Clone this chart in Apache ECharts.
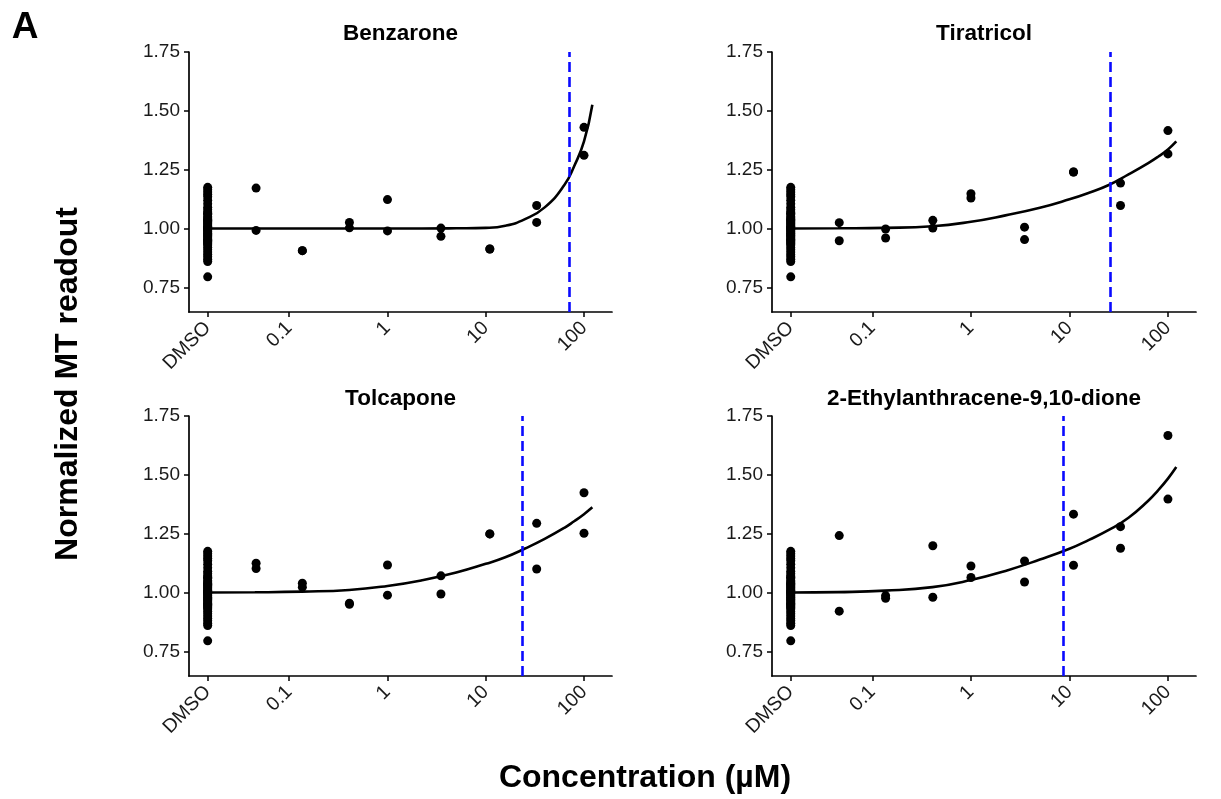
<!DOCTYPE html>
<html>
<head>
<meta charset="utf-8">
<script src="https://cdn.jsdelivr.net/npm/echarts@6/dist/echarts.min.js"></script>
<style>
html, body { margin: 0; background: #fff; }
#plot { width: 1221px; height: 799px; }
</style>
</head>
<body>
<div id="plot"></div>
<script>
// compound panels, in reading order
const compounds = ['Benzarone', 'Tiratricol', 'Tolcapone', '2-Ethylanthracene-9,10-dione'];

// x ticks (concentration, µM); DMSO is drawn at a fixed spot left of 0.1
const dmsoPos = 0.0148;
const xTickConc = [dmsoPos, 0.1, 1, 10, 100];
const xTickLabels = ['DMSO', '0.1', '1', '10', '100'];
const yTicks = [0.75, 1.0, 1.25, 1.5, 1.75];

// DMSO control wells (same in every panel)
const dmsoValues = [1.175, 1.165, 1.155, 1.145, 1.135, 1.12, 1.105, 1.09, 1.08, 1.07, 1.065, 1.06,
	1.05, 1.045, 1.04, 1.035, 1.03, 1.025, 1.02, 1.015, 1.01, 1.005, 1.0, 0.998, 0.995, 0.99,
	0.985, 0.98, 0.975, 0.97, 0.965, 0.96, 0.955, 0.95, 0.945, 0.94, 0.935, 0.93, 0.92, 0.91,
	0.9, 0.89, 0.88, 0.87, 0.86, 0.795];

// dose series (µM)
const doses = [0.046, 0.136, 0.41, 1.0, 3.5, 11, 33, 100];

// two replicates per dose
const benzaroneRep1 = [1.172, 0.906, 1.026, 1.123, 1.002, 0.913, 1.098, 1.430];
const benzaroneRep2 = [0.992, 0.906, 1.003, 0.990, 0.967, 0.913, 1.026, 1.311];
const tiratricolRep1 = [1.025, 0.998, 1.035, 1.148, 1.006, 1.240, 1.193, 1.416];
const tiratricolRep2 = [0.948, 0.960, 1.002, 1.130, 0.953, 1.240, 1.098, 1.317];
const tolcaponeRep1 = [1.125, 1.040, 0.955, 1.117, 1.071, 1.249, 1.294, 1.424];
const tolcaponeRep2 = [1.102, 1.023, 0.950, 0.989, 0.994, 1.249, 1.100, 1.252];
const ethylRep1 = [1.242, 0.987, 1.199, 1.113, 1.134, 1.333, 1.280, 1.667];
const ethylRep2 = [0.921, 0.976, 0.980, 1.064, 1.045, 1.116, 1.188, 1.397];

// fitted curves at these concentrations
const curveConc = [0.0148, 0.0447, 0.135, 0.407, 1, 2.24, 5.01, 10, 15.8, 25.1, 39.8, 63.1, 79.4, 100, 121.6];
const benzaroneCurve = [1.0, 1.0, 1.0, 1.0, 1.0, 1.0, 1.001, 1.003, 1.012, 1.04, 1.09, 1.185, 1.265, 1.37, 1.526];
const tiratricolCurve = [1.0, 1.001, 1.003, 1.01, 1.029, 1.056, 1.088, 1.124, 1.152, 1.185, 1.23, 1.278, 1.305, 1.336, 1.37];
const tolcaponeCurve = [1.0, 1.001, 1.004, 1.011, 1.028, 1.052, 1.085, 1.122, 1.15, 1.187, 1.228, 1.275, 1.303, 1.333, 1.362];
const ethylCurve = [1.0, 1.002, 1.008, 1.023, 1.053, 1.092, 1.14, 1.186, 1.224, 1.266, 1.318, 1.39, 1.434, 1.484, 1.533];

// EC50 markers (µM)
const ec50 = [71.6, 26, 23.7, 8.8];

const reps = [
	[benzaroneRep1, benzaroneRep2],
	[tiratricolRep1, tiratricolRep2],
	[tolcaponeRep1, tolcaponeRep2],
	[ethylRep1, ethylRep2]
];
const curves = [benzaroneCurve, tiratricolCurve, tolcaponeCurve, ethylCurve];

const FONT = '"Liberation Sans", Arial, sans-serif';
const grids = [
	{ left: 189, top: 52, width: 423, height: 260 },
	{ left: 772, top: 52, width: 424, height: 260 },
	{ left: 189, top: 416, width: 423, height: 260 },
	{ left: 772, top: 416, width: 424, height: 260 }
];

const lg = Math.log10;

function xLabel(v) {
	for (let i = 0; i < xTickConc.length; i++) {
		if (Math.abs(lg(xTickConc[i]) - v) < 1e-6) return xTickLabels[i];
	}
	return '';
}

const xAxes = [];
const yAxes = [];
const series = [];
const graphics = [];

compounds.forEach((name, i) => {
	const g = grids[i];
	xAxes.push({
		type: 'value',
		gridIndex: i,
		min: -2.02,
		max: 2.285,
		splitLine: { show: false },
		axisLine: { onZero: false, lineStyle: { color: '#000', width: 1.7 } },
		axisTick: { customValues: xTickConc.map(lg), length: 5, lineStyle: { color: '#000', width: 1.5 } },
		axisLabel: {
			customValues: xTickConc.map(lg),
			formatter: xLabel,
			rotate: 45,
			margin: 13,
			color: '#1a1a1a',
			fontSize: 19.5,
			fontFamily: FONT
		}
	});
	yAxes.push({
		type: 'value',
		gridIndex: i,
		min: 0.6455,
		max: 1.75,
		splitLine: { show: false },
		axisLine: { show: true, onZero: false, lineStyle: { color: '#000', width: 1.7 } },
		axisTick: { show: true, customValues: yTicks, length: 5, lineStyle: { color: '#000', width: 1.5 } },
		axisLabel: {
			customValues: yTicks,
			formatter: v => v.toFixed(2),
			margin: 9,
			color: '#1a1a1a',
			fontSize: 19,
			fontFamily: FONT
		}
	});

	const pts = dmsoValues.map(v => [lg(dmsoPos), v]);
	reps[i].forEach(rep => {
		rep.forEach((v, k) => pts.push([lg(doses[k]), v]));
	});
	series.push({
		type: 'scatter',
		xAxisIndex: i,
		yAxisIndex: i,
		symbolSize: 9,
		itemStyle: { color: '#000', opacity: 1 },
		data: pts,
		z: 2
	});
	series.push({
		type: 'line',
		xAxisIndex: i,
		yAxisIndex: i,
		showSymbol: false,
		smooth: 0.5,
		lineStyle: { color: '#000', width: 2.6 },
		data: curveConc.map((c, k) => [lg(c), curves[i][k]]),
		z: 3,
		markLine: {
			silent: true,
			symbol: 'none',
			label: { show: false },
			lineStyle: { color: '#0a0aff', width: 2.6, type: [10, 5] },
			data: [{ xAxis: lg(ec50[i]) }]
		}
	});

	graphics.push({
		type: 'text',
		x: g.left + g.width / 2,
		y: i < 2 ? 34 : 399,
		style: {
			text: name,
			fontSize: 22.5,
			fontWeight: 'bold',
			fontFamily: FONT,
			fill: '#000',
			align: 'center',
			verticalAlign: 'middle'
		}
	});
});

graphics.push({
	type: 'text', x: 25, y: 28,
	style: { text: 'A', fontSize: 37, fontWeight: 'bold', fontFamily: FONT, fill: '#000', align: 'center', verticalAlign: 'middle' }
});
graphics.push({
	type: 'text', x: 68, y: 384, rotation: Math.PI / 2,
	style: { text: 'Normalized MT readout', fontSize: 32, fontWeight: 'bold', fontFamily: FONT, fill: '#000', align: 'center', verticalAlign: 'middle' }
});
graphics.push({
	type: 'text', x: 645, y: 778,
	style: { text: 'Concentration (µM)', fontSize: 32, fontWeight: 'bold', fontFamily: FONT, fill: '#000', align: 'center', verticalAlign: 'middle' }
});

const chart = echarts.init(document.getElementById('plot'));
chart.setOption({
	animation: false,
	backgroundColor: '#fff',
	grid: grids,
	xAxis: xAxes,
	yAxis: yAxes,
	series: series,
	graphic: graphics
});
</script>
</body>
</html>
